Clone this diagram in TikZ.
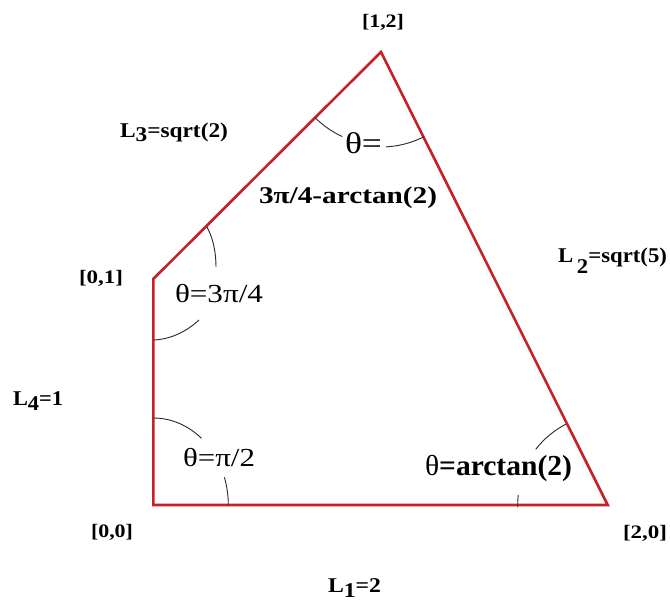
\documentclass[tikz,border=0pt]{standalone}
\usepackage{fontspec}
\setmainfont{Liberation Serif}
\usepackage{graphicx}
\definecolor{edgered}{RGB}{196,34,40}
\definecolor{arcgray}{RGB}{40,40,40}
\newcommand{\fitw}[2]{\resizebox{#1pt}{\height}{#2}}
\tikzset{
  edge/.style={draw=edgered, line width=2.6pt, line join=miter},
  anglearc/.style={draw=arcgray, line width=0.9pt},
  lbl/.style={anchor=base west, inner sep=0pt, outer sep=0pt},
  vb/.style={lbl, font=\fontsize{19pt}{19pt}\selectfont\bfseries},
  lb/.style={lbl, font=\fontsize{21pt}{21pt}\selectfont\bfseries},
}
\begin{document}
\begin{tikzpicture}[x=1pt,y=-1pt]
\useasboundingbox (0,0) rectangle (670,602);
\fill[white] (0,0) rectangle (670,602);
% vertices
\coordinate (A) at (153.3,505);
\coordinate (B) at (607.7,505);
\coordinate (C) at (381,52);
\coordinate (D) at (153.3,279);
% quadrilateral
\draw[edge] (A) -- (B) -- (C) -- (D) -- cycle;
% angle arcs
\draw[anglearc] ([shift={(135:93)}]C) arc[start angle=135, end angle=114.6, radius=93];
\draw[anglearc] ([shift={(87:95)}]C) arc[start angle=87, end angle=63.2, radius=95];
\draw[anglearc] ([shift={(242.5:91)}]B) arc[start angle=242.5, end angle=217.7, radius=91];
\draw[anglearc] ([shift={(178.5:90)}]B) arc[start angle=178.5, end angle=186.5, radius=90];
\draw[anglearc] ([shift={(0,-87)}]A) arc[start angle=270, end angle=310, x radius=75, y radius=87];
\draw[anglearc] ([shift={(341.4:75 and 87)}]A) arc[start angle=341.4, end angle=360, x radius=75, y radius=87];
\draw[anglearc] (207,227) .. controls (213,238) and (216,252) .. (216,267);
\draw[anglearc] (199,320) .. controls (187,331) and (172,339) .. (154,340);
% vertex labels
\node[vb] (n12) at (362,27.5) {\fitw{42}{[1,2]}};
\node[vb] (n01) at (79,283) {\fitw{44}{[0,1]}};
\node[vb] (n00) at (91,537) {\fitw{42}{[0,0]}};
\node[vb] (n20) at (623,538) {\fitw{44}{[2,0]}};
% side labels
\node[lb] (L3) at (120,138) {\fitw{108}{L\raisebox{-3pt}{3}=sqrt(2)}};
\node[lb] (L4) at (13,405) {\fitw{50}{L\raisebox{-5pt}{4}=1}};
\node[lb] (L1) at (328,592.5) {\fitw{53}{L\raisebox{-5pt}{1}=2}};
\node[lb] (L2) at (558,262) {\fitw{109}{L\,\raisebox{-11pt}{2}=sqrt(5)}};
% angle labels
\node[lbl, font=\fontsize{30pt}{30pt}\selectfont] (thtop) at (345,153.5) {\fitw{37}{θ=}};
\node[lbl, font=\fontsize{24pt}{24pt}\selectfont\bfseries] (thtop2) at (259,203) {\fitw{178}{3π/4-arctan(2)}};
\node[lbl, font=\fontsize{26pt}{26pt}\selectfont] (th34) at (175,302) {\fitw{88}{θ=3π/4}};
\node[lbl, font=\fontsize{26pt}{26pt}\selectfont] (th2) at (183,466) {\fitw{72}{θ=π/2}};
\node[lbl, font=\fontsize{29pt}{29pt}\selectfont] (tharc) at (425,475) {\fitw{147}{θ\bfseries=arctan(2)}};
\end{tikzpicture}
\end{document}
